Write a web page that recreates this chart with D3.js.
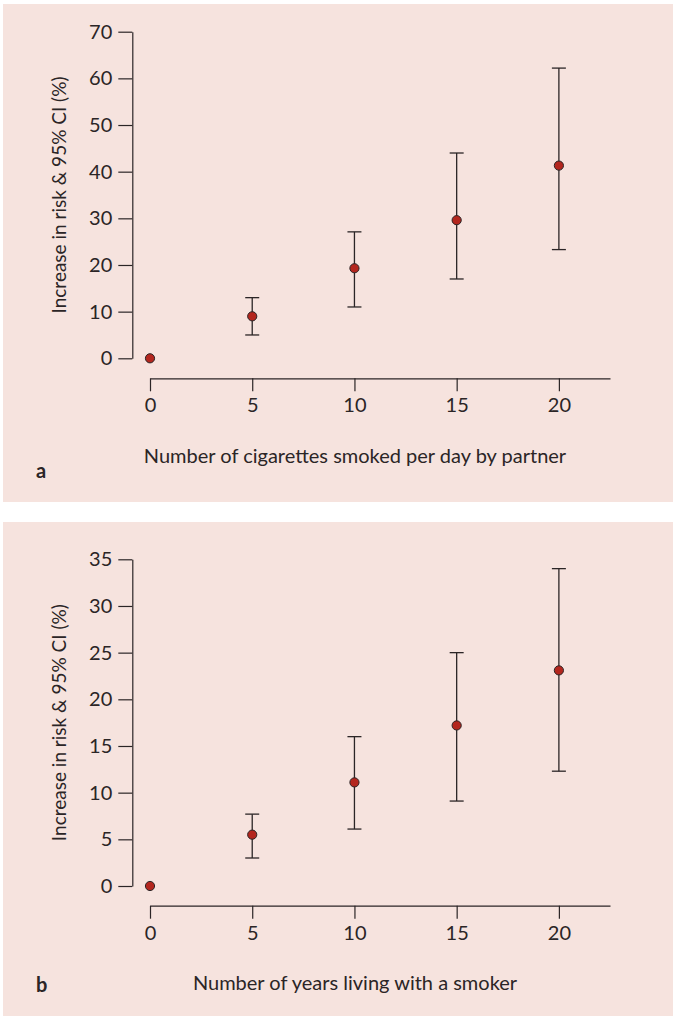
<!DOCTYPE html>
<html>
<head>
<meta charset="utf-8">
<script src="https://cdn.jsdelivr.net/npm/d3@7"></script>
<style>
  html, body { margin: 0; padding: 0; background: #ffffff; }
  svg { display: block; }
  text { font-family: Lato, "Open Sans", sans-serif; fill: #2b2526; }
</style>
</head>
<body>
<svg id="chart" width="673" height="1016"></svg>
<script>
// ---- Data ----
const xCategories = [0, 5, 10, 15, 20];
const xTickLabels = ["0", "5", "10", "15", "20"];

// Panel a: cigarettes per day by partner
const aEstimate = [0, 9, 19.3, 29.6, 41.3];
const aLower    = [null, 5, 11, 17, 23.3];
const aUpper    = [null, 13, 27.1, 44, 62.2];
const aYTicks   = [0, 10, 20, 30, 40, 50, 60, 70];

// Panel b: years living with a smoker
const bEstimate = [0, 5.5, 11.1, 17.2, 23.1];
const bLower    = [null, 3, 6.1, 9.1, 12.3];
const bUpper    = [null, 7.7, 16, 25, 34];
const bYTicks   = [0, 5, 10, 15, 20, 25, 30, 35];

const yLabel = "Increase in risk & 95% CI (%)";
const panels = [
  { letter: "a", xTitle: "Number of cigarettes smoked per day by partner",
    est: aEstimate, lo: aLower, hi: aUpper, yTicks: aYTicks, yMax: 70,
    bg: [4, 502], yTop: 31.7, yBottom: 358.3, xAxisY: 378.3, xTitleY: 463, letterY: 478 },
  { letter: "b", xTitle: "Number of years living with a smoker",
    est: bEstimate, lo: bLower, hi: bUpper, yTicks: bYTicks, yMax: 35,
    bg: [522, 1016], yTop: 559.3, yBottom: 886, xAxisY: 905.7, xTitleY: 990, letterY: 992 }
];

const svg = d3.select("#chart");
const ink = "#2b2526";

panels.forEach(p => {
  const g = svg.append("g");
  g.append("rect").attr("x", 3).attr("y", p.bg[0])
    .attr("width", 670).attr("height", p.bg[1] - p.bg[0])
    .attr("fill", "#f6e3de");

  const x = d3.scaleLinear().domain([0, 22.5]).range([150, 610]);
  const y = d3.scaleLinear().domain([0, p.yMax]).range([p.yBottom, p.yTop]);

  // y axis
  const yAxis = d3.axisLeft(y).tickValues(p.yTicks).tickSize(14).tickSizeOuter(0).tickPadding(6);
  const ya = g.append("g").attr("transform", "translate(132.3,0)").call(yAxis);
  ya.select(".domain").attr("stroke", ink).attr("stroke-width", 1.2);
  ya.selectAll(".tick line").attr("stroke", ink).attr("stroke-width", 1.2);
  ya.selectAll(".tick text").attr("font-size", 20).attr("fill", ink)
    .style("font-family", "Lato, sans-serif");

  // x axis
  const xAxis = d3.axisBottom(x).tickValues(xCategories)
    .tickFormat((d, i) => xTickLabels[i]).tickSize(13).tickSizeOuter(0).tickPadding(7);
  const xa = g.append("g").attr("transform", `translate(0,${p.xAxisY})`).call(xAxis);
  xa.select(".domain").attr("stroke", ink).attr("stroke-width", 1.2);
  xa.selectAll(".tick line").attr("stroke", ink).attr("stroke-width", 1.2);
  xa.selectAll(".tick text").attr("font-size", 20).attr("fill", ink)
    .style("font-family", "Lato, sans-serif");

  // error bars
  const capW = 7;
  xCategories.forEach((c, i) => {
    if (p.lo[i] == null) return;
    const cx = x(c);
    g.append("line").attr("x1", cx).attr("x2", cx).attr("y1", y(p.lo[i])).attr("y2", y(p.hi[i]))
      .attr("stroke", ink).attr("stroke-width", 1.3);
    [p.lo[i], p.hi[i]].forEach(v => {
      g.append("line").attr("x1", cx - capW).attr("x2", cx + capW).attr("y1", y(v)).attr("y2", y(v))
        .attr("stroke", ink).attr("stroke-width", 1.3);
    });
  });

  // points
  g.selectAll("circle.pt").data(xCategories).enter().append("circle")
    .attr("class", "pt")
    .attr("cx", d => x(d)).attr("cy", (d, i) => y(p.est[i]))
    .attr("r", 4.6).attr("fill", "#b3261e").attr("stroke", ink).attr("stroke-width", 1);

  // titles
  g.append("text").attr("x", 355).attr("y", p.xTitleY).attr("text-anchor", "middle")
    .attr("font-size", 20).text(p.xTitle);
  g.append("text").attr("transform", `translate(66,${(p.yTop + p.yBottom) / 2}) rotate(-90)`)
    .attr("text-anchor", "middle").attr("font-size", 19).text(yLabel);
  g.append("text").attr("x", 36).attr("y", p.letterY)
    .attr("font-size", 20).attr("font-weight", "bold").text(p.letter);
});
</script>
</body>
</html>
